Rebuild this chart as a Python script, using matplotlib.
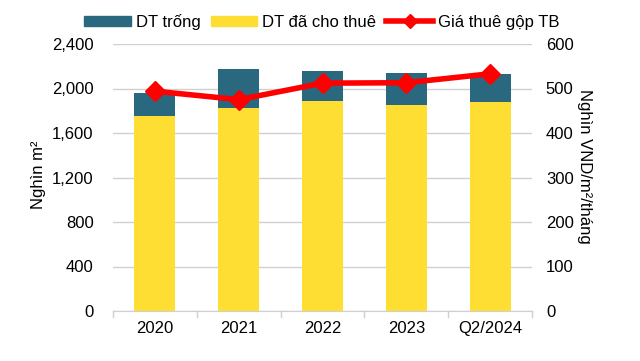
import matplotlib.pyplot as plt
import numpy as np
from matplotlib.lines import Line2D
from matplotlib.patches import Patch

plt.rcParams['font.family'] = ['Liberation Sans', 'DejaVu Sans']

# data
periods = ["2020", "2021", "2022", "2023", "Q2/2024"]
total_area = [1960, 2175, 2155, 2140, 2130]   # thousand m2
leased = [1755, 1825, 1885, 1850, 1878]       # thousand m2
rent = [494, 475, 512, 513, 533]              # thousand VND/m2/month

vacant = [t - l for t, l in zip(total_area, leased)]

dark = '#2a6880'
yellow = '#ffde33'
red = '#ff0000'

fig = plt.figure(figsize=(6.4, 3.61), dpi=100)
ax = fig.add_axes([113 / 640, 1 - 311 / 361, (532 - 113) / 640, (311 - 44) / 361])
ax2 = ax.twinx()

x = np.arange(len(periods))
ax.bar(x, leased, width=0.49, color=yellow, zorder=2)
ax.bar(x, vacant, bottom=leased, width=0.49, color=dark, zorder=2)

ax2.plot(x, rent, color=red, lw=4, marker='D', ms=10, zorder=3)

ax.set_xlim(-0.5, len(periods) - 0.5)
ax.set_ylim(0, 2400)
ax.set_yticks(range(0, 2401, 400))
ax.set_yticklabels([f"{v:,}" for v in range(0, 2401, 400)])
ax2.set_ylim(0, 600)
ax2.set_yticks(range(0, 601, 100))

ax.set_xticks(x)
ax.set_xticklabels(periods)
ax.yaxis.grid(True, color='#d0d0d0', lw=1, zorder=0)
ax.set_axisbelow(True)

for a in (ax, ax2):
    for s in a.spines.values():
        s.set_visible(False)
    a.tick_params(axis='y', length=0, labelsize=12, pad=14)
ax2.tick_params(axis='y', pad=10)
ax.spines['bottom'].set_visible(True)
ax.spines['bottom'].set_color('#d0d0d0')
ax.tick_params(axis='x', labelsize=12, length=0, pad=7)
# category separators on the x axis
for b in np.arange(-0.5, len(periods), 1.0):
    ax.plot([b, b], [0, -50], color='#d0d0d0', lw=1, clip_on=False)

ax.set_ylabel("Nghìn m²", fontsize=12)
ax2.set_ylabel("Nghìn VND/m²/tháng", fontsize=12, rotation=-90, va='center')
ax.yaxis.set_label_coords(-0.16, 0.51)
ax2.yaxis.set_label_coords(1.125, 0.54)

handles = [Patch(color=dark), Patch(color=yellow),
           Line2D([], [], color=red, lw=4, marker='D', ms=7)]
labels = ["DT trống", "DT đã cho thuê", "Giá thuê gộp TB"]
fig.legend(handles, labels, loc='center', bbox_to_anchor=(322 / 640, 1 - 22 / 361),
           ncol=3, frameon=False, fontsize=12, handlelength=2.8, handleheight=0.6,
           columnspacing=0.6, handletextpad=0.3)

fig.savefig("out.png", dpi=100)
